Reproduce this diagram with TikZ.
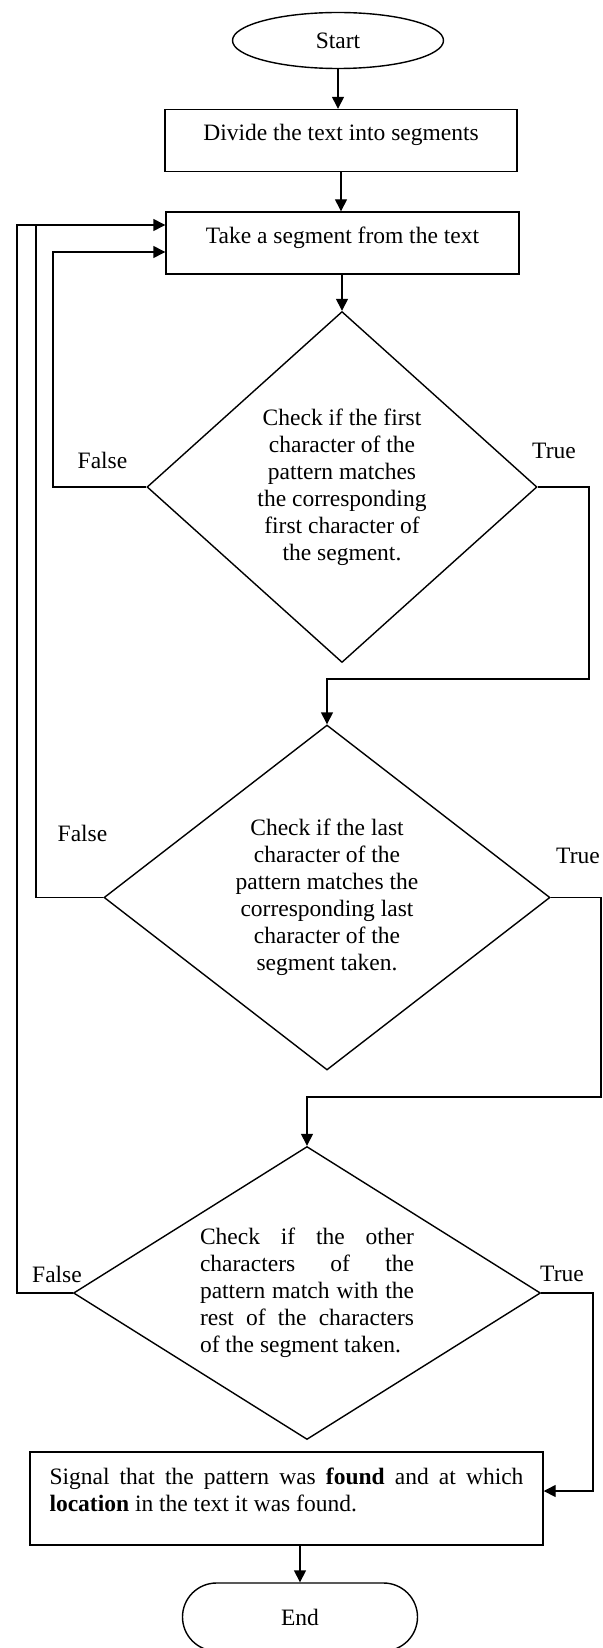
\documentclass[tikz,border=0pt]{standalone}
\usepackage{fontspec}
\setmainfont{Liberation Serif}
\usetikzlibrary{shapes.geometric,arrows.meta}

\begin{document}
\begin{tikzpicture}[x=0.5pt,y=-0.5pt,line width=0.7pt,
  font=\fontsize{11.75}{13.5}\selectfont,
  flow/.style={-{Triangle[length=6pt,width=6pt]}},
  procbox/.style={draw, rectangle, inner ysep=0pt, text height=15.5pt, text depth=15.5pt},
  decision/.style={draw, diamond, inner sep=0pt, align=center},
  terminal/.style={draw, ellipse, inner sep=0pt}]
\useasboundingbox (0,0) rectangle (602,1648);

\node[terminal, minimum width=105.5pt, minimum height=28pt] (start) at (338,40.5) {Start};
\node[procbox, minimum width=176pt] (divide) at (341,140.5) {Divide the text into segments};
\node[procbox, minimum width=176.5pt] (take) at (342.5,243) {Take a segment from the text};

\node[decision, minimum width=195pt, minimum height=175.5pt, shape aspect=1.11] (first) at (342,487)
  {Check if the first\\character of the\\pattern matches\\the corresponding\\first character of\\the segment.};
\node[decision, minimum width=223pt, minimum height=172.5pt, shape aspect=1.29] (last) at (327,897.5)
  {Check if the last\\character of the\\pattern matches the\\corresponding last\\character of the\\segment taken.};
\node[decision, minimum width=233.5pt, minimum height=146.5pt, shape aspect=1.59,
  text width=107pt, align=justify] (rest) at (307,1293)
  {Check if the other\linebreak characters of the\linebreak pattern match with the\linebreak
   rest of the characters\linebreak of the segment taken.};

\node[draw, rectangle, text width=237pt, align=justify, inner xsep=9.75pt, inner ysep=0pt,
  text height=16pt, text depth=30.5pt] (signal) at (286.5,1498.5)
  {Signal that the pattern was \textbf{found} and at which\linebreak
   \textbf{location} in the text it was found.};
\node[draw, rectangle, rounded corners=17pt, minimum width=117.5pt, minimum height=34pt] (stop) at (300,1617) {End};

\node (false1) at (102.5,460) {False};
\node (true1) at (554,451) {True};
\node (false2) at (82.5,833) {False};
\node (true2) at (578,856) {True};
\node (false3) at (57,1274) {False};
\node (true3) at (562,1274) {True};

\path[draw,flow] (start.south) -- (start.south |- divide.north);
\path[draw,flow] (divide.south) -- (divide.south |- take.north);
\path[draw,flow] (take.south -| first.north) -- (first.north);

% false branches back to the segment box
\path[draw,flow] (first.west) -| (53,252) -- (take.west |- 0,252);
\path[draw] (last.west) -| (36,225);
\path[draw,flow] (rest.west) -| (17,225) -- (take.west |- 0,225);

% true branches
\path[draw,flow] (first.east) -| (589,679) -| (last.north);
\path[draw,flow] (last.east) -| (601,1097) -| (rest.north);
\path[draw,flow] (rest.east) -| (593,1491) -- (signal.east |- 0,1491);
\path[draw,flow] (signal.south -| stop.north) -- (stop.north);
\end{tikzpicture}
\end{document}
